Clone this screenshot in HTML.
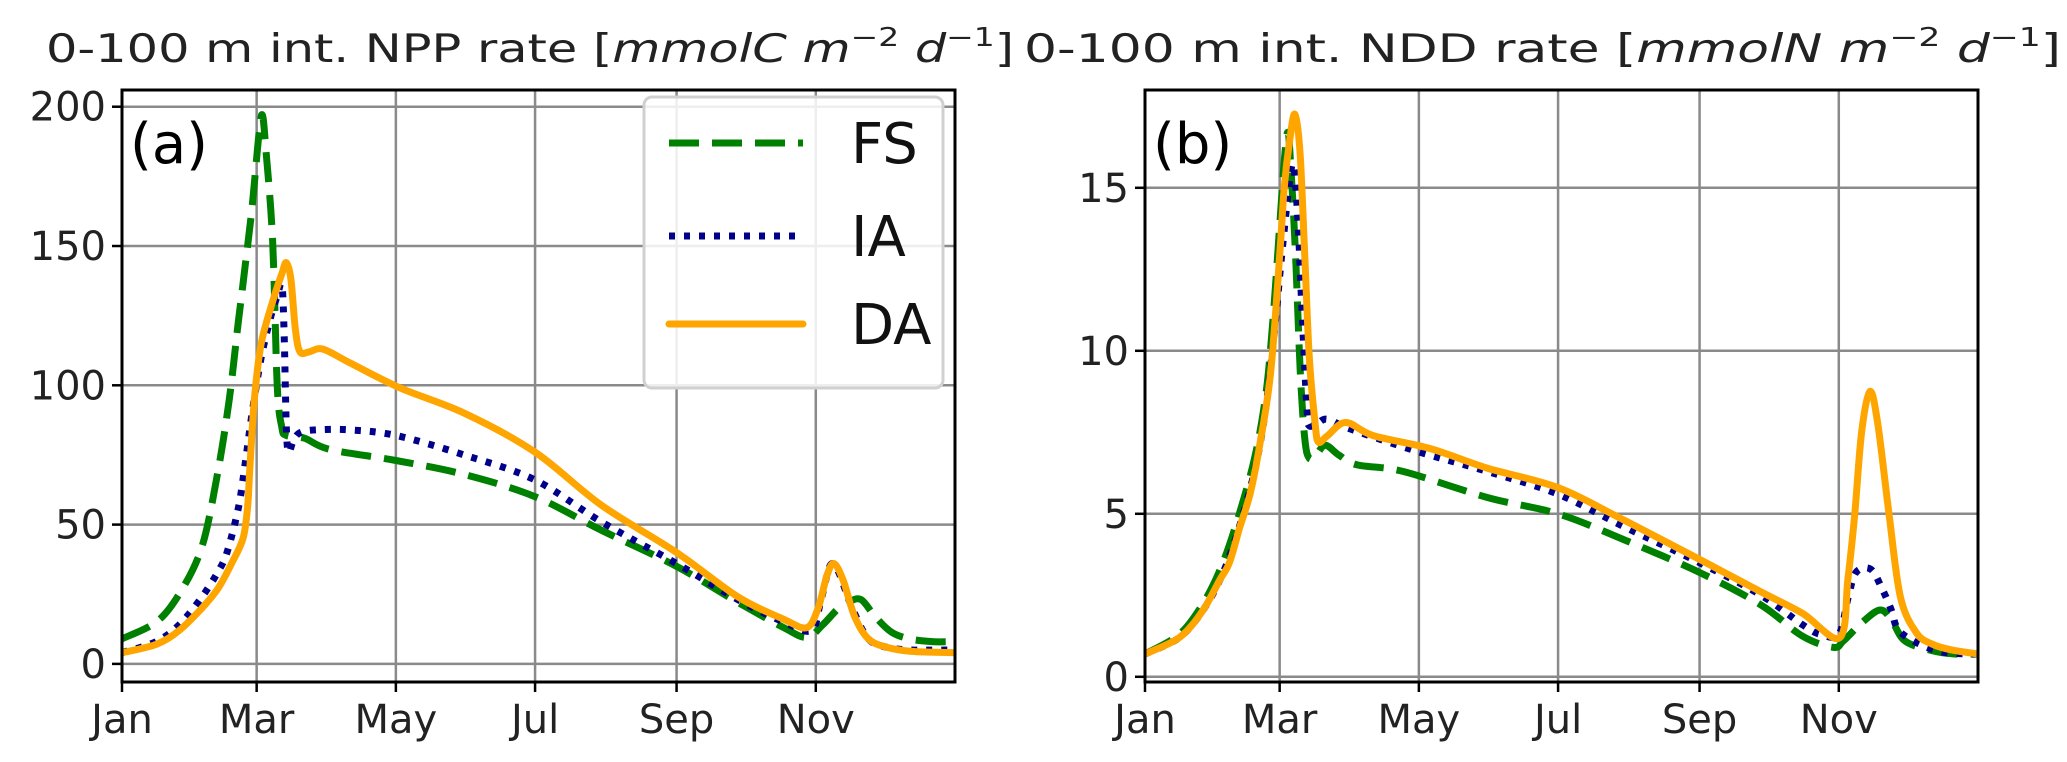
<!DOCTYPE html>
<html><head><meta charset="utf-8"><style>
html,body{margin:0;padding:0;background:#fff;}
svg{display:block;font-family:"DejaVu Sans","Liberation Sans",sans-serif;}
</style></head><body>
<svg id="fig" width="2067" height="762" viewBox="0 0 2067 762" xmlns="http://www.w3.org/2000/svg">
<text x="46" y="62" font-size="39" fill="#222" textLength="968" lengthAdjust="spacingAndGlyphs">0-100 m int. NPP rate [<tspan font-style="italic">mmolC m</tspan><tspan font-size="26" dy="-16">−2</tspan><tspan dy="16" font-style="italic"> d</tspan><tspan font-size="26" dy="-16">−1</tspan><tspan dy="16">]</tspan></text>
<text x="1024" y="62" font-size="39" fill="#222" textLength="1037" lengthAdjust="spacingAndGlyphs">0-100 m int. NDD rate [<tspan font-style="italic">mmolN m</tspan><tspan font-size="26" dy="-16">−2</tspan><tspan dy="16" font-style="italic"> d</tspan><tspan font-size="26" dy="-16">−1</tspan><tspan dy="16">]</tspan></text>
</svg>
<script>
const monthLabels = ["Jan","Mar","May","Jul","Sep","Nov"];
const monthDays = [0,59,120,181,243,304];
const nppTicks = [0,50,100,150,200];
const nddTicks = [0,5,10,15];
const seriesNames = ["FS","IA","DA"];
const nppDays_FS = [0,15,25,35,42,47,51,54,57,60,61.5,63,66,68,70,72,80,91,120,150,181,210,243,270,290,300,307,314,319,324,330,337,345,355,365];
const nppVals_FS = [9,15,25,42,69,95,123,143,164,190,197,185,152,100,85,82,81,77,73,68,60,48,35,22,13,9.5,14,20,22.5,23,17,11.5,9,8,8];
const nppDays_IA = [0,15,25,35,42,46,51,54,57,61,65,68,70,71,72,73,75,78,85,100,120,150,181,210,243,270,290,302,306,309,311,314,320,327,335,346,365];
const nppVals_IA = [4,8,14,24,33,40,56,72,90,110,124,132,136,120,85,76,80,83,84,84,82,75,66,51,36,23,15,12,22,32,36,33,20,9,6,5,5];
const nppDays_DA = [0,15,25,35,42,48,53,55,56,58,61,66,70,72,74,76,78,82,88,100,122,150,181,210,243,270,290,300,305,309,312,316,321,327,335,346,365];
const nppVals_DA = [4,7,12,20,27,36,45,56,70,95,115,130,140,144,138,120,112,112,113,108,99,90,76,57,40,24,16,13,20,32,36,30,17,9,6,4.5,4];
const nddDays_FS = [0,15,25,33,40,48,53,56,59,61,62.6,64,66,68,70,72,75,79,85,93,113,150,181,210,243,270,288,301.6,306,314,322,327,333,345,355,365];
const nddVals_FS = [0.7,1.3,2.2,3.3,4.7,6.7,8.7,10.9,13.8,15.8,16.7,15.5,12.9,9.4,7.3,6.7,6.8,7.1,6.8,6.5,6.3,5.5,5.0,4.2,3.2,2.2,1.25,0.9,1.1,1.65,2.05,1.75,1.1,0.8,0.7,0.7];
const nddDays_IA = [0,15,25,33,40,48,53,57,60,63,65,67,69,71,72,76,80,90,120,150,181,210,243,270,288,296,304,308,311.5,318,323,327,330,338,350,365];
const nddVals_IA = [0.7,1.2,2.0,3.0,4.3,6.3,8.3,10.8,13,15.0,15.7,14,10.9,8.2,7.7,7.8,7.9,7.6,6.9,6.3,5.6,4.6,3.5,2.5,1.6,1.3,1.3,2.4,3.2,3.3,2.7,2.05,1.45,1.05,0.75,0.7];
const nddDays_DA = [0,15,25,33,37,41.6,46,50,55,59,61,63.5,65.7,68,70,72,74.5,76,80,88,100,125,150,181,210,243,270,288,304.4,308,311,314,317.6,321,326,331,338,345,353,365];
const nddVals_DA = [0.7,1.2,2.0,3.0,3.5,4.6,5.6,7.0,9.3,12.9,15,16.5,17.25,16,12.9,9.8,7.8,7.2,7.4,7.8,7.4,7.0,6.4,5.8,4.8,3.6,2.6,1.95,1.2,3,5,7.5,8.75,7.8,5,2.45,1.35,1.0,0.83,0.7];

const NS = "http://www.w3.org/2000/svg";
const svg = document.getElementById('fig');
function mk(tag, attrs, parent){const e=document.createElementNS(NS,tag);for(const k in attrs)e.setAttribute(k,attrs[k]);(parent||svg).appendChild(e);return e;}
const styles = {
  FS:{stroke:"#008000",dash:"30,13",cap:"butt"},
  IA:{stroke:"#00008b",dash:"6,9",cap:"butt"},
  DA:{stroke:"#ffa500",dash:"",cap:"round"}
};
function smoothPath(P){
  let d = "M"+P[0][0].toFixed(1)+","+P[0][1].toFixed(1);
  for(let i=0;i<P.length-1;i++){
    const p0=P[Math.max(0,i-1)],p1=P[i],p2=P[i+1],p3=P[Math.min(P.length-1,i+2)];
    const c1=[p1[0]+(p2[0]-p0[0])/6,p1[1]+(p2[1]-p0[1])/6];
    const c2=[p2[0]-(p3[0]-p1[0])/6,p2[1]-(p3[1]-p1[1])/6];
    d+=" C"+c1[0].toFixed(1)+","+c1[1].toFixed(1)+" "+c2[0].toFixed(1)+","+c2[1].toFixed(1)+" "+p2[0].toFixed(1)+","+p2[1].toFixed(1);
  }
  return d;
}
function panel(name, L, R, T, B, ymin, ymax, ticks, series, letter){
  const g = mk('g',{});
  
  
  const xs = d => L + (R-L)*d/365;
  const ys = v => B - (B-T)*(v-ymin)/(ymax-ymin);
  monthDays.forEach((d,i)=>{
    const x = xs(d);
    const gl = mk('line',{x1:x,x2:x,y1:T,y2:B,stroke:"#8a8a8a","stroke-width":2.5},g);
    
    
    const tk = mk('line',{x1:x,x2:x,y1:B,y2:B+10,stroke:"#000","stroke-width":2.5},g);
    
    
    const t = mk('text',{x:x,y:733,"font-size":40,"text-anchor":"middle",fill:"#222"},g);
    t.textContent = monthLabels[i];
    
    
  });
  ticks.forEach(v=>{
    const y = ys(v);
    const gl = mk('line',{x1:L,x2:R,y1:y,y2:y,stroke:"#8a8a8a","stroke-width":2.5},g);
    
    
    const tk = mk('line',{x1:L-10,x2:L,y1:y,y2:y,stroke:"#000","stroke-width":2.5},g);
    
    
    const t = mk('text',{x:L-16,y:y+14,"font-size":40,"text-anchor":"end",fill:"#222"},g);
    t.textContent = v;
    
    
  });
  const clipId = name+"-clip";
  const cp = mk('clipPath',{id:clipId},g);
  mk('rect',{x:L,y:T,width:R-L,height:B-T},cp);
  series.forEach(s=>{
    const st = styles[s.name];
    const P = s.days.map((d,i)=>[xs(d),ys(s.vals[i])]);
    const p = mk('path',{d:smoothPath(P),fill:"none",stroke:st.stroke,"stroke-width":7,"stroke-linejoin":"round","stroke-linecap":st.cap,"clip-path":"url(#"+clipId+")"},g);
    if(st.dash) p.setAttribute('stroke-dasharray',st.dash);
    
    
  });
  const fr = mk('rect',{x:L,y:T,width:R-L,height:B-T,fill:"none",stroke:"#000","stroke-width":3},g);
  
  
  const lt = mk('text',{x:L+8,y:163,"font-size":56,fill:"#000"},g);
  lt.textContent = letter;
  
  
}
panel('panel-npp',122,955,90,682,-6.5,206,nppTicks,[
  {name:"FS",days:nppDays_FS,vals:nppVals_FS},
  {name:"IA",days:nppDays_IA,vals:nppVals_IA},
  {name:"DA",days:nppDays_DA,vals:nppVals_DA}],"(a)");
panel('panel-ndd',1145,1978,90,682,-0.16,18.0,nddTicks,[
  {name:"FS",days:nddDays_FS,vals:nddVals_FS},
  {name:"IA",days:nddDays_IA,vals:nddVals_IA},
  {name:"DA",days:nddDays_DA,vals:nddVals_DA}],"(b)");

const lg = mk('g',{});


const lb = mk('rect',{x:644,y:97,width:299,height:291,rx:8,fill:"#fff","fill-opacity":0.85,stroke:"#d0d0d0","stroke-width":3},lg);


const legY = [143,236,324];
seriesNames.forEach((n,i)=>{
  const st = styles[n];
  const e = mk('g',{},lg);
  
  
  const l = mk('line',{x1:669,x2:803,y1:legY[i],y2:legY[i],stroke:st.stroke,"stroke-width":7,"stroke-linecap":st.cap},e);
  if(st.dash) l.setAttribute('stroke-dasharray',st.dash);
  const t = mk('text',{x:851,y:legY[i]+20,"font-size":56,fill:"#111"},e);
  t.textContent = n;
});
</script>
</body></html>
